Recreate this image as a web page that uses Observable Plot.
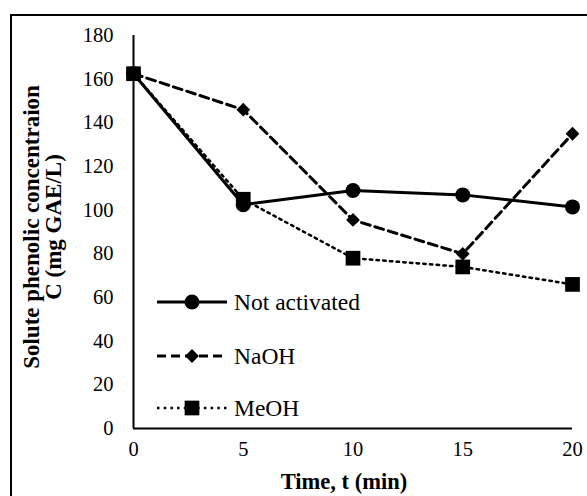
<!DOCTYPE html>
<html>
<head>
<meta charset="utf-8">
<script src="https://cdn.jsdelivr.net/npm/d3@7"></script>
<script src="https://cdn.jsdelivr.net/npm/@observablehq/plot@0.6"></script>
<style>
  html, body { margin: 0; padding: 0; background: #fff; }
  #wrap { position: relative; width: 587px; height: 496px; overflow: hidden; background: #fff; }
  #frame { position: absolute; left: 10px; top: 14px; width: 700px; height: 700px; border: 2px solid #000; box-sizing: border-box; }
  #wrap svg { position: absolute; left: 0; top: 0; }
  #wrap svg text { font-family: "Liberation Serif", "Times New Roman", serif !important; }
</style>
</head>
<body>
<div id="wrap"><div id="frame"></div></div>
<script>
const times = [0, 5, 10, 15, 20];
const notActivated = [162.5, 102.5, 109, 107, 101.5];
const naoh = [162.5, 146, 95.5, 80, 135];
const meoh = [162.5, 105, 78, 74, 66];
const xTicks = [0, 5, 10, 15, 20];
const yTicks = [0, 20, 40, 60, 80, 100, 120, 140, 160, 180];
const seriesNames = ["Not activated", "NaOH", "MeOH"];
const xLabel = "Time, t (min)";
const yLabelLines = ["Solute phenolic concentraion", "C (mg GAE/L)"];

const font = "Liberation Serif, Times New Roman, serif";
const styles = [
  {symbol: "circle", r: 7.5, dash: null, width: 3},
  {symbol: "diamond2", r: 6.2, dash: "9,5", width: 3},
  {symbol: "square", r: 8.3, dash: "2.5,4.2", width: 2.5}
];
const valuesList = [notActivated, naoh, meoh];
const tables = valuesList.map((vals, i) => times.map((t, j) => ({t, c: vals[j], series: seriesNames[i]})));

const marks = [
  Plot.axisX({ticks: xTicks, tickSize: 0, tickPadding: 13, label: null, fontSize: 20}),
  Plot.axisY({ticks: yTicks, tickSize: 0, tickPadding: 20, label: null, fontSize: 20}),
  Plot.ruleX([0], {stroke: "#000", strokeWidth: 2}),
  Plot.ruleY([0], {stroke: "#000", strokeWidth: 2})
];
tables.forEach((tb, i) => {
  const s = styles[i];
  marks.push(Plot.line(tb, {x: "t", y: "c", stroke: "#000", strokeWidth: s.width, strokeDasharray: s.dash}));
  marks.push(Plot.dot(tb, {x: "t", y: "c", symbol: () => s.symbol, r: s.r, fill: "#000", stroke: "none"}));
});

const chart = Plot.plot({
  width: 587, height: 496,
  marginLeft: 133, marginRight: 15, marginTop: 35, marginBottom: 68,
  style: {fontFamily: font, fontSize: "20px", color: "#000", background: "transparent", overflow: "visible"},
  x: {domain: [0, 20]},
  y: {domain: [0, 180]},
  symbol: {domain: ["circle", "diamond2", "square"], range: ["circle", "diamond2", "square"]},
  marks
});
document.getElementById("wrap").appendChild(chart);

const svg = d3.select(chart);
svg.selectAll("text").attr("fill", "#000").style("font-size", "20.5px");
// y axis title
const yl = svg.append("g").attr("transform", "rotate(-90)")
  .attr("font-weight", "bold").attr("fill", "#000").attr("text-anchor", "middle");
yl.append("text").attr("x", -227).attr("y", 39).style("font-size", "23px").text(yLabelLines[0]);
yl.append("text").attr("x", -227).attr("y", 61).style("font-size", "23px").text(yLabelLines[1]);
// x axis title
svg.append("text").attr("x", 344).attr("y", 489).attr("text-anchor", "middle")
  .attr("font-weight", "bold").style("font-size", "22.5px").attr("fill", "#000").text(xLabel);

// legend
const legYs = [302, 356, 408];
const lg = svg.append("g").attr("text-anchor", "start");
const symMap = {circle: d3.symbolCircle, diamond2: d3.symbolDiamond2, square: d3.symbolSquare};
seriesNames.forEach((name, i) => {
  const s = styles[i];
  const y = legYs[i];
  lg.append("line").attr("x1", 157).attr("x2", 227).attr("y1", y).attr("y2", y)
    .attr("stroke", "#000").attr("stroke-width", s.width).attr("stroke-dasharray", s.dash || null);
  lg.append("path").attr("d", d3.symbol(symMap[s.symbol], Math.PI * s.r * s.r)())
    .attr("transform", `translate(192,${y})`).attr("fill", "#000");
  lg.append("text").attr("x", 234).attr("y", y + 8).attr("text-anchor", "start")
    .style("font-size", "23.5px").attr("fill", "#000").text(name);
});
</script>
</body>
</html>
